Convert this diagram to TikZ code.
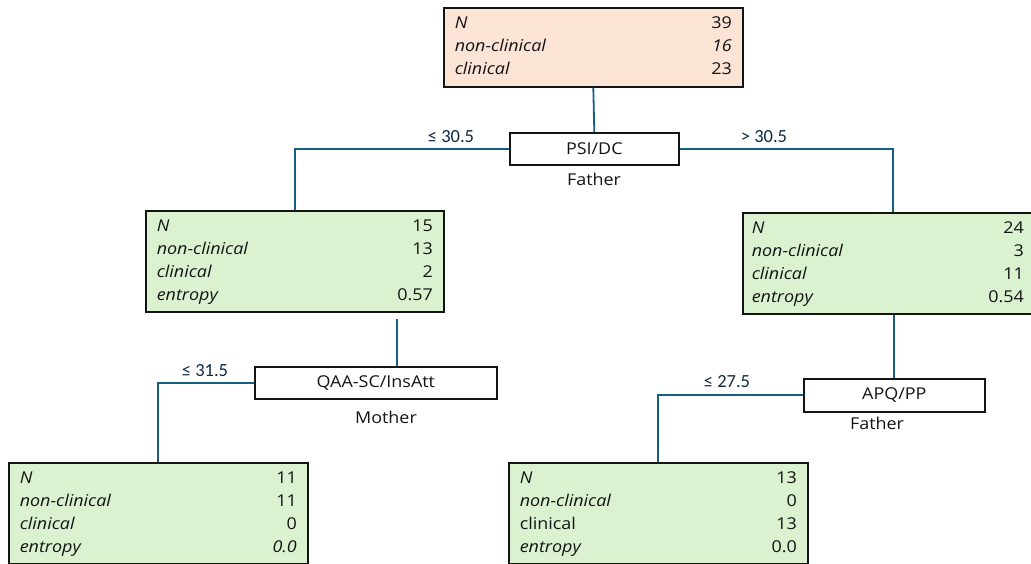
\documentclass[tikz,border=0pt]{standalone}
\usepackage{fontspec}
\setmainfont[FakeStretch=1.1]{Open Sans}
\newfontfamily\cutfont{Carlito}

\definecolor{peach}{HTML}{FBE3D6}
\definecolor{leafgreen}{HTML}{DAF2D0}
\definecolor{linkblue}{HTML}{156082}
\definecolor{cutnavy}{HTML}{0E2841}
\definecolor{ink}{HTML}{141414}

% two-column table of class counts: labels left, values right
\newcommand{\stats}[2]{\begin{tabular*}{#1}{@{}l@{\extracolsep{\fill}}r@{}}#2\end{tabular*}}
\newcommand{\boxfont}{\fontsize{16.3}{23}\selectfont}

\tikzset{
  statbox/.style={draw=ink, line width=1.6pt, inner sep=0pt, anchor=north west,
                  text=ink, font=\boxfont},
  splitbox/.style={draw=ink, line width=1.6pt, fill=white, inner sep=0pt,
                   anchor=north west, text=ink, font=\boxfont},
  link/.style={draw=linkblue, line width=1.8pt},
  cutlabel/.style={text=cutnavy, font=\cutfont\fontsize{18.5}{22}\selectfont, inner sep=0pt},
  parentlabel/.style={text=ink, font=\boxfont, inner sep=0pt}
}

\begin{document}
\begin{tikzpicture}[x=1pt,y=-1pt]
\useasboundingbox (0,0) rectangle (1031,563);

% root
\node[statbox, fill=peach, minimum width=299pt, minimum height=79pt] (root) at (443,7)
  {\stats{277pt}{\textit{N} & 39\\ \textit{non-clinical} & \textit{16}\\ \textit{clinical} & 23}};

% first split
\node[splitbox, minimum width=169pt, minimum height=32pt] (psi) at (509,132) {PSI/DC};
\node[parentlabel] (psiwho) at (594,179) {Father};

% second level
\node[statbox, fill=leafgreen, minimum width=298pt, minimum height=101pt] (lbox) at (145,210)
  {\stats{276pt}{\textit{N} & 15\\ \textit{non-clinical} & 13\\ \textit{clinical} & 2\\ \textit{entropy} & 0.57}};
\node[statbox, fill=leafgreen, minimum width=290pt, minimum height=101pt] (rbox) at (742,212)
  {\stats{272pt}{\textit{N} & 24\\ \textit{non-clinical} & 3\\ \textit{clinical} & 11\\ \textit{entropy} & 0.54}};

% second-level splits
\node[splitbox, minimum width=242pt, minimum height=32pt] (qaa) at (254,366) {QAA-SC/InsAtt};
\node[parentlabel] (qaawho) at (386,417) {Mother};
\node[splitbox, minimum width=181pt, minimum height=33pt] (apq) at (803,378) {APQ/PP};
\node[parentlabel] (apqwho) at (877,423) {Father};

% leaves
\node[statbox, fill=leafgreen, minimum width=299pt, minimum height=101pt] (lleaf) at (8,462)
  {\stats{277pt}{\textit{N} & 11\\ \textit{non-clinical} & 11\\ \textit{clinical} & 0\\ \textit{entropy} & \textit{0.0}}};
\node[statbox, fill=leafgreen, minimum width=299pt, minimum height=101pt] (rleaf) at (508,462)
  {\stats{277pt}{\textit{N} & 13\\ \textit{non-clinical} & 0\\ clinical & 13\\ \textit{entropy} & 0.0}};

% connectors
\coordinate (rtop) at (893,212);
\coordinate (lstub) at (397,319);
\draw[link] (root.south) -- (psi.north);
\draw[link] (psi.west) -| (lbox.north);
\draw[link] (psi.east) -| (rtop);
\draw[link] (lstub) -- (lstub |- qaa.north);
\draw[link] (qaa.west) -| (lleaf.north);
\draw[link] (apq.north) -- (apq.north |- rbox.south);
\draw[link] (apq.west) -| (rleaf.north);

% split thresholds
\node[cutlabel] (c1) at (451,137) {≤ 30.5};
\node[cutlabel] (c2) at (764,137) {> 30.5};
\node[cutlabel] (c3) at (205,371) {≤ 31.5};
\node[cutlabel] (c4) at (727,382) {≤ 27.5};
\end{tikzpicture}
\end{document}
